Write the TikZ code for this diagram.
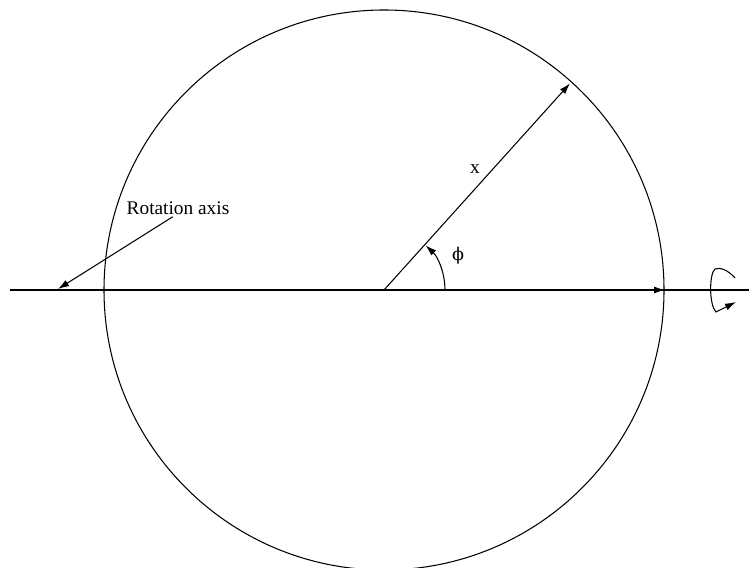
\documentclass[tikz,border=0pt]{standalone}
\usepackage{fontspec}
\setmainfont{Liberation Serif}
\newfontfamily\grkfont{DejaVu Serif}
\usetikzlibrary{arrows.meta,positioning}

\begin{document}
\begin{tikzpicture}[x=0.02cm,y=0.02cm,>={Latex[length=2.2mm,width=1.4mm]},
 line width=0.6pt,
 lbl/.style={font=\fontsize{11}{13}\selectfont,inner sep=1pt}]
\useasboundingbox (0,0) rectangle (749,567);
\coordinate (O) at (384,277);
\coordinate (axL) at (10,277);
\coordinate (axR) at (749,277);
\coordinate (axE) at (665,277);
\draw (O) circle (280);
\draw (axL)--(axR);
\draw[->] (O)--(axE);
\draw[->] (O)--++(48:278) coordinate (rim);
\draw[->] ([shift={(0:61)}]O) arc (0:47:61);
\node[lbl] (phi) at (458,311) {\grkfont\fontsize{10}{12}\selectfont ϕ};
\node[lbl] (xlab) at (475,398) {x};
\node[lbl] (rot) at (178,359) {Rotation axis};
\coordinate (axtip) at (58,278);
\draw[->] ([xshift=-3]rot.south) -- (axtip);
\draw[->] (735,289) .. controls (728,297) and (720,300) .. (715,298)
 .. controls (709,293) and (709,262) .. (716,255) -- (736,265);
\end{tikzpicture}
\end{document}
